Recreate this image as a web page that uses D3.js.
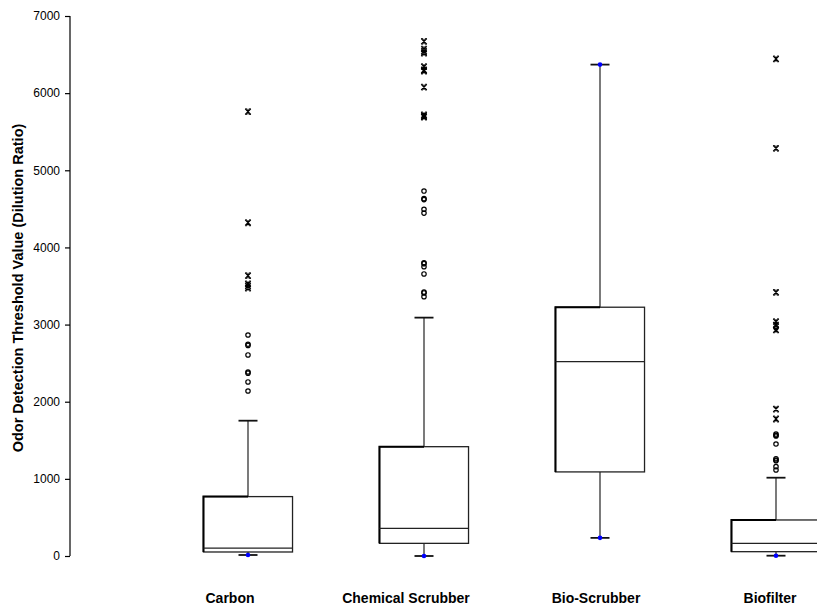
<!DOCTYPE html>
<html><head><meta charset="utf-8">
<script src="https://cdn.jsdelivr.net/npm/d3@7"></script>
<style>body{margin:0;background:#fff}svg{display:block}text{font-family:"Liberation Sans",Arial,sans-serif}</style>
</head><body><svg id="c" width="817" height="607"></svg>
<script>
const categories = ["Carbon","Chemical Scrubber","Bio-Scrubber","Biofilter"];
const whiskerLow  = [13, 0, 235, 4];
const q1          = [52, 164, 1090, 56];
const median      = [103, 359, 2520, 164];
const q3          = [770, 1417, 3225, 467];
const whiskerHigh = [1754, 3090, 6370, 1015];
const outliers = [
  [2865, 2745, 2730, 2606, 2385, 2370, 2256, 2139],
  [4731, 4632, 4620, 4494, 4445, 3800, 3790, 3750, 3656, 3420, 3410, 3362],
  [],
  [2960, 1581, 1565, 1555, 1452, 1261, 1245, 1235, 1158, 1115]
];
const extremes = [
  [5760, 4320, 3634, 3526, 3500, 3474],
  [6670, 6570, 6540, 6520, 6343, 6300, 6287, 6077, 5717, 5700, 5690],
  [],
  [6443, 5285, 3418, 3037, 2994, 2930, 1905, 1776]
];
const minFlag = [true, true, true, true];
const maxFlag = [false, false, true, false];
const yTicks = [0,1000,2000,3000,4000,5000,6000,7000];
const labelShift = [-18, -18, -4, -6];

const svg = d3.select("#c");
const y = d3.scaleLinear().domain([0,7000]).range([556,16]);
const x = d3.scaleBand().domain(categories).range([160,864]).padding(0);
const bw = x.bandwidth()*0.506;
const cx = c => x(c) + x.bandwidth()/2;

const ax = svg.append("g").attr("transform","translate(70,0)").attr("color","#000")
  .call(d3.axisLeft(y).tickValues(yTicks).tickFormat(d3.format("d")).tickSize(5).tickPadding(5));
ax.select(".domain").attr("stroke","#000").attr("stroke-width",1.2).attr("d","M0,16V556");
ax.selectAll(".tick line").attr("stroke","#000").attr("stroke-width",1.2);
ax.selectAll(".tick text").attr("font-size",12).attr("font-family","Liberation Sans, Arial, sans-serif").attr("fill","#000");

svg.append("text").attr("transform","translate(23,288) rotate(-90)")
  .attr("text-anchor","middle").attr("font-size",14.5).attr("font-weight","bold")
  .text("Odor Detection Threshold Value (Dilution Ratio)");

const g = svg.append("g");
categories.forEach((c,i)=>{
  const m = cx(c);
  g.append("line").attr("x1",m).attr("x2",m).attr("y1",y(q3[i])).attr("y2",y(whiskerHigh[i])).attr("stroke","#222").attr("stroke-width",1.2);
  g.append("line").attr("x1",m).attr("x2",m).attr("y1",y(q1[i])).attr("y2",y(whiskerLow[i])).attr("stroke","#222").attr("stroke-width",1.2);
  [whiskerHigh[i], whiskerLow[i]].forEach(v=>{
    g.append("line").attr("x1",m-9.5).attr("x2",m+9.5).attr("y1",y(v)).attr("y2",y(v)).attr("stroke","#111").attr("stroke-width",1.8);
  });
  g.append("rect").attr("x",m-bw/2).attr("y",y(q3[i])).attr("width",bw).attr("height",y(q1[i])-y(q3[i]))
    .attr("fill","#fff").attr("stroke","#222").attr("stroke-width",1.3);
  g.append("path").attr("d",`M${m-bw/2},${y(q1[i])}V${y(q3[i])}H${m}`).attr("fill","none").attr("stroke","#000").attr("stroke-width",2);
  g.append("line").attr("x1",m-bw/2).attr("x2",m+bw/2).attr("y1",y(median[i])).attr("y2",y(median[i])).attr("stroke","#222").attr("stroke-width",1.3);
  if(minFlag[i]) g.append("circle").attr("cx",m).attr("cy",y(whiskerLow[i])).attr("r",2.3).attr("fill","#0000ff");
  if(maxFlag[i]) g.append("circle").attr("cx",m).attr("cy",y(whiskerHigh[i])).attr("r",2.3).attr("fill","#0000ff");
  outliers[i].forEach(v=>{
    g.append("circle").attr("cx",m).attr("cy",y(v)).attr("r",2.2).attr("fill","none").attr("stroke","#000").attr("stroke-width",1.2);
  });
  extremes[i].forEach(v=>{
    const yy = y(v), s=2.8;
    g.append("path").attr("d",`M${m-s},${yy-s}L${m+s},${yy+s}M${m-s},${yy+s}L${m+s},${yy-s}M${m},${yy-s}V${yy+s}M${m-s},${yy-s}H${m-s+1.6}M${m+s},${yy-s}H${m+s-1.6}M${m-s},${yy+s}H${m-s+1.6}M${m+s},${yy+s}H${m+s-1.6}`)
      .attr("fill","none").attr("stroke","#000").attr("stroke-width",1.2);
  });
  svg.append("text").attr("x",m+labelShift[i]).attr("y",603).attr("text-anchor","middle")
    .attr("font-size",14).attr("font-weight","bold").text(c);
});
</script></body></html>
